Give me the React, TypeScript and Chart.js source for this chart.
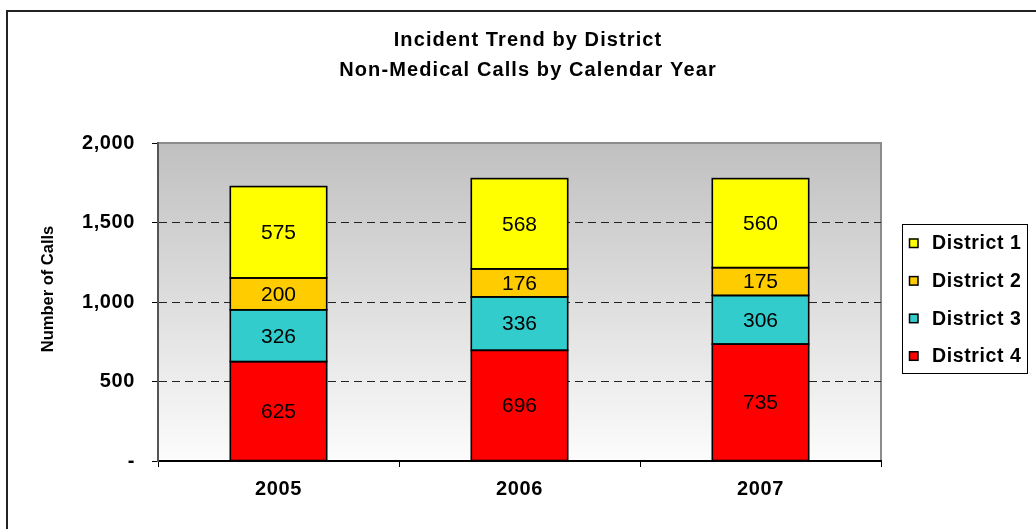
import React, { useEffect, useRef } from 'react';
import { Chart, registerables } from 'chart.js';

Chart.register(...registerables);

const categories = ['2005', '2006', '2007'];
const district1 = [575, 568, 560];
const district2 = [200, 176, 175];
const district3 = [326, 336, 306];
const district4 = [625, 696, 735];
const seriesNames = ['District 1', 'District 2', 'District 3', 'District 4'];
const seriesColors = ['#FFFF00', '#FFCC00', '#33CCCC', '#FF0000'];
const yMin = 0;
const yMax = 2000;
const yStep = 500;
const titleLines = ['Incident Trend by District', 'Non-Medical Calls by Calendar Year'];
const yAxisTitle = 'Number of Calls';

const FONT = '"Liberation Sans", Arial, Helvetica, sans-serif';

const decor = {
  id: 'decor',
  beforeDraw(chart: any) {
    const { ctx, chartArea: a } = chart;
    ctx.save();
    ctx.fillStyle = '#ffffff';
    ctx.fillRect(0, 0, chart.width, chart.height);
    const g = ctx.createLinearGradient(0, a.top, 0, a.bottom);
    g.addColorStop(0, '#c0c0c0');
    g.addColorStop(1, '#fcfcfc');
    ctx.fillStyle = g;
    ctx.fillRect(a.left, a.top, a.right - a.left, a.bottom - a.top);
    ctx.strokeStyle = '#8c8c8c';
    ctx.lineWidth = 2;
    ctx.beginPath();
    ctx.moveTo(a.left, a.top);
    ctx.lineTo(a.right, a.top);
    ctx.lineTo(a.right, a.bottom);
    ctx.stroke();
    ctx.restore();
    (ctx as any).letterSpacing = '0.6px';
  },
  afterDatasetsDraw(chart: any) {
    const { ctx } = chart;
    ctx.save();
    // segment outlines
    ctx.strokeStyle = '#000';
    ctx.lineWidth = 1.6;
    chart.data.datasets.forEach((_ds: any, i: number) => {
      const meta = chart.getDatasetMeta(i);
      meta.data.forEach((el: any) => {
        const left = el.x - el.width / 2;
        ctx.strokeRect(left, el.y, el.width, el.base - el.y);
      });
    });
    (ctx as any).letterSpacing = '0px';
    ctx.font = `21px ${FONT}`;
    ctx.fillStyle = '#000';
    ctx.textAlign = 'center';
    ctx.textBaseline = 'middle';
    chart.data.datasets.forEach((ds: any, i: number) => {
      const meta = chart.getDatasetMeta(i);
      meta.data.forEach((el: any, j: number) => {
        const y = (el.y + el.base) / 2;
        ctx.fillText(String(ds.data[j]), el.x, y + 1);
      });
    });
    ctx.restore();
  },
  afterDraw(chart: any) {
    const { ctx } = chart;
    ctx.save();
    // titles
    (ctx as any).letterSpacing = '1.1px';
    ctx.font = `bold 20px ${FONT}`;
    ctx.fillStyle = '#000';
    ctx.textAlign = 'center';
    ctx.textBaseline = 'middle';
    ctx.fillText(titleLines[0], 528, 40);
    ctx.fillText(titleLines[1], 528, 70);

    // y axis title
    (ctx as any).letterSpacing = '0px';
    ctx.font = `bold 16.5px ${FONT}`;
    ctx.save();
    ctx.translate(48, 289);
    ctx.rotate(-Math.PI / 2);
    ctx.fillText(yAxisTitle, 0, 0);
    ctx.restore();

    // legend
    const lx = 902, ly = 224, lw = 125, lh = 149;
    ctx.fillStyle = '#fff';
    ctx.fillRect(lx, ly, lw, lh);
    ctx.strokeStyle = '#000';
    ctx.lineWidth = 1;
    ctx.strokeRect(lx + 0.5, ly + 0.5, lw, lh);
    (ctx as any).letterSpacing = '0.6px';
    ctx.font = `bold 19.5px ${FONT}`;
    ctx.textAlign = 'left';
    seriesNames.forEach((name, i) => {
      const cy = 243 + i * 37.6;
      ctx.fillStyle = seriesColors[i];
      ctx.fillRect(909, cy - 4.5, 9, 9);
      ctx.strokeStyle = '#000';
      ctx.lineWidth = 1.5;
      ctx.strokeRect(909.5, cy - 4, 8.5, 8.5);
      ctx.fillStyle = '#000';
      ctx.fillText(name, 932, cy + 1);
    });

    // outer border
    ctx.strokeStyle = '#222';
    ctx.lineWidth = 2;
    ctx.strokeRect(7, 11, 1200, 700);
    ctx.restore();
  },
};

export default function App() {
  const ref = useRef<HTMLCanvasElement | null>(null);
  useEffect(() => {
    if (!ref.current) return;
    const datasets = [
      { label: seriesNames[3], data: district4, backgroundColor: seriesColors[3] },
      { label: seriesNames[2], data: district3, backgroundColor: seriesColors[2] },
      { label: seriesNames[1], data: district2, backgroundColor: seriesColors[1] },
      { label: seriesNames[0], data: district1, backgroundColor: seriesColors[0] },
    ].map((d) => ({
      ...d,
      borderWidth: 0,
      barPercentage: 0.4,
      categoryPercentage: 1,
    }));
    const tickFont = { family: FONT, size: 20, weight: 'bold' as any };
    const chart = new Chart(ref.current, {
      type: 'bar',
      data: { labels: categories, datasets },
      plugins: [decor],
      options: {
        responsive: false,
        animation: false,
        devicePixelRatio: 1,
        layout: { padding: { top: 143, right: 155, left: 0, bottom: 0 } },
        plugins: { legend: { display: false }, title: { display: false }, tooltip: { enabled: false } },
        scales: {
          x: {
            stacked: true,
            grid: { display: true, drawOnChartArea: false, drawTicks: true, tickLength: 6, tickColor: '#000', offset: true },
            border: { display: true, color: '#000', width: 2 },
            ticks: { font: tickFont, color: '#000', padding: 10 },
            afterFit: (s: any) => { s.height = 68; },
          },
          y: {
            stacked: true,
            min: yMin,
            max: yMax,
            grid: {
              color: (c: any) => (c.tick && (c.tick.value === yMin || c.tick.value === yMax) ? 'rgba(0,0,0,0)' : '#222'),
              lineWidth: 1,
              drawTicks: true,
              tickLength: 6,
              tickColor: '#000',
            },
            border: { display: true, color: '#555', width: 2, dash: [8, 5] },
            ticks: {
              stepSize: yStep,
              font: tickFont,
              color: '#000',
              padding: 17,
              callback: (v: any) => (Number(v) === 0 ? '-' : Number(v).toLocaleString('en-US')),
            },
            afterFit: (s: any) => { s.width = 158; },
          },
        },
      },
    } as any);
    return () => chart.destroy();
  }, []);
  return (
    <div style={{ position: 'fixed', left: 0, top: 0, width: 1036, height: 529 }}>
      <canvas ref={ref} width={1036} height={529} />
    </div>
  );
}
